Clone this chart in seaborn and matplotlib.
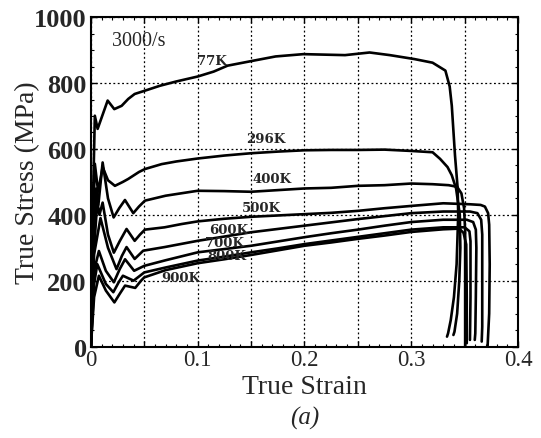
import matplotlib
matplotlib.use("Agg")
import matplotlib.pyplot as plt
from matplotlib.ticker import MultipleLocator, FuncFormatter
import seaborn as sns
import pandas as pd

# curves (true strain, true stress in MPa), 3000/s
strain_77 = [0, 0.001, 0.0037, 0.0063, 0.0157, 0.0219, 0.0288, 0.035, 0.041, 0.0506, 0.0647, 0.08, 0.1,
             0.115, 0.128, 0.152, 0.173, 0.199, 0.238, 0.261, 0.28, 0.303, 0.32, 0.332, 0.336, 0.338,
             0.341, 0.3435, 0.344, 0.3425, 0.340, 0.337, 0.3345, 0.3335]
stress_77 = [0, 300, 701, 661, 747, 721, 731, 752, 767, 777, 792, 805, 820,
             835, 853, 868, 881, 888, 885, 893, 885, 873, 862, 838, 790, 731,
             580, 480, 400, 250, 150, 80, 40, 30]

strain_296 = [0, 0.001, 0.0037, 0.0068, 0.011, 0.016, 0.0225, 0.03, 0.035, 0.045, 0.0506, 0.0663, 0.08,
              0.1, 0.125, 0.15, 0.175, 0.2, 0.225, 0.25, 0.275, 0.3, 0.32, 0.327, 0.334, 0.338, 0.342,
              0.3455, 0.346, 0.345, 0.343, 0.3405, 0.3395]
stress_296 = [0, 250, 555, 470, 545, 505, 488, 500, 509, 530, 539, 554, 562,
              571, 580, 587, 592, 596, 597, 597, 598, 594, 590, 570, 545, 520, 480,
              400, 300, 200, 100, 45, 35]

strain_400 = [0, 0.002, 0.005, 0.007, 0.011, 0.016, 0.0213, 0.0265, 0.0319, 0.0397, 0.045, 0.0506, 0.07,
              0.1, 0.125, 0.15, 0.175, 0.2, 0.225, 0.25, 0.275, 0.3, 0.32, 0.335, 0.343, 0.347, 0.3495,
              0.3505, 0.3505, 0.3505]
stress_400 = [0, 300, 480, 430, 559, 450, 392, 420, 445, 405, 425, 443, 458,
              473, 472, 470, 475, 480, 482, 488, 490, 495, 493, 490, 485, 465, 420,
              350, 200, 0]

strain_500 = [0, 0.002, 0.006, 0.008, 0.011, 0.016, 0.0215, 0.027, 0.0334, 0.041, 0.046, 0.0506, 0.069,
              0.085, 0.1, 0.125, 0.15, 0.175, 0.2, 0.225, 0.25, 0.275, 0.3, 0.33, 0.355, 0.365, 0.369,
              0.372, 0.373, 0.3735, 0.373, 0.3715]
stress_500 = [0, 250, 440, 400, 437, 340, 285, 320, 357, 321, 340, 355, 362,
              372, 380, 388, 394, 398, 402, 406, 412, 420, 427, 435, 432, 430, 425,
              405, 370, 250, 100, 0]

strain_600 = [0, 0.003, 0.009, 0.016, 0.024, 0.029, 0.0334, 0.041, 0.049, 0.069, 0.1, 0.125, 0.15,
              0.175, 0.2, 0.225, 0.25, 0.275, 0.3, 0.33, 0.355, 0.362, 0.3655, 0.3665, 0.3665, 0.3665,
              0.366]
stress_600 = [0, 280, 390, 300, 235, 275, 302, 266, 291, 302, 321, 334, 347,
              357, 367, 377, 387, 396, 405, 410, 410, 405, 385, 340, 200, 60,
              15]

strain_700 = [0, 0.003, 0.0075, 0.014, 0.0215, 0.027, 0.032, 0.0405, 0.05, 0.07, 0.1, 0.125, 0.15,
              0.175, 0.2, 0.225, 0.25, 0.275, 0.3, 0.33, 0.352, 0.358, 0.3605, 0.361, 0.3605, 0.360,
              0.3595]
stress_700 = [0, 230, 290, 230, 195, 235, 265, 230, 245, 262, 286, 296, 306,
              319, 332, 344, 355, 367, 378, 385, 385, 378, 355, 300, 150, 40,
              20]

strain_800 = [0, 0.003, 0.006, 0.014, 0.021, 0.026, 0.03, 0.04, 0.05, 0.07, 0.1, 0.125, 0.15,
              0.175, 0.2, 0.225, 0.25, 0.275, 0.3, 0.33, 0.35, 0.3545, 0.3555, 0.3555, 0.355]
stress_800 = [0, 190, 250, 190, 165, 195, 215, 200, 225, 240, 261, 273, 286,
              298, 311, 322, 333, 344, 355, 362, 362, 350, 320, 150, 20]

strain_900 = [0, 0.003, 0.0075, 0.014, 0.022, 0.027, 0.032, 0.0415, 0.047, 0.05, 0.07, 0.1, 0.125,
              0.15, 0.175, 0.2, 0.225, 0.25, 0.275, 0.3, 0.33, 0.345, 0.349, 0.3515, 0.352, 0.352]
stress_900 = [0, 150, 215, 170, 134, 160, 185, 178, 200, 210, 232, 253, 265,
              278, 292, 306, 316, 327, 337, 348, 356, 358, 345, 310, 150, 10]

temps = ["77K", "296K", "400K", "500K", "600K", "700K", "800K", "900K"]
strains = [strain_77, strain_296, strain_400, strain_500, strain_600, strain_700, strain_800, strain_900]
stresses = [stress_77, stress_296, stress_400, stress_500, stress_600, stress_700, stress_800, stress_900]

# where the temperature labels sit (strain, stress)
label_x = [0.113, 0.164, 0.170, 0.160, 0.129, 0.125, 0.127, 0.0844]
label_y = [870, 632, 511, 422, 356, 316, 275, 210]

frames = []
for t, s, st in zip(temps, strains, stresses):
    frames.append(pd.DataFrame({"strain": s, "stress": st, "temp": t}))
df = pd.concat(frames, ignore_index=True)

sns.set_style("ticks")
plt.rcParams["font.family"] = ["Liberation Serif", "DejaVu Serif"]

fig = plt.figure(figsize=(5.41, 4.39), dpi=100)
ax = fig.add_axes([0.168, 0.2084, 0.7895, 0.75])

sns.lineplot(data=df, x="strain", y="stress", units="temp", estimator=None, sort=False,
             color="black", linewidth=1.9, legend=False, ax=ax)

ax.set_xlim(0, 0.4)
ax.set_ylim(0, 1000)

# ticks: grid every 0.05 / 200, labels every 0.1 / 200
ax.xaxis.set_major_locator(MultipleLocator(0.05))
ax.xaxis.set_minor_locator(MultipleLocator(0.01))
ax.yaxis.set_major_locator(MultipleLocator(200))
ax.yaxis.set_minor_locator(MultipleLocator(50))


def fmt_x(v, pos):
    k = round(v / 0.05)
    if k % 2:
        return ""
    return "0" if k == 0 else f"{v:.1f}"


ax.xaxis.set_major_formatter(FuncFormatter(fmt_x))
ax.yaxis.set_major_formatter(FuncFormatter(lambda v, p: f"{int(round(v))}"))

ax.tick_params(which="both", direction="in", top=True, right=True, color="black")
ax.tick_params(which="major", length=4, width=1)
ax.tick_params(which="minor", length=2.5, width=0.8)
ax.tick_params(axis="x", which="major", labelsize=16.5, pad=2)
ax.tick_params(axis="y", which="major", labelsize=19, pad=3)
for lab in ax.get_yticklabels():
    lab.set_fontweight("bold")

ax.grid(True, which="major", color="black", linestyle=(0, (1.5, 2)), linewidth=0.9)
for sp in ax.spines.values():
    sp.set_color("black")
    sp.set_linewidth(1.5)

ax.set_xlabel("True Strain", fontsize=20)
ax.set_ylabel("True Stress (MPa)", fontsize=20)
ax.xaxis.set_label_coords(0.5, -0.085)
ax.yaxis.set_label_coords(-0.12, 0.5)

ax.text(0.0197, 929, "3000/s", fontsize=14.5, ha="left", va="center")
for t, lx, ly in zip(temps, label_x, label_y):
    ax.text(lx, ly, t, fontsize=9.5, fontweight="bold", family="DejaVu Serif",
            ha="center", va="center")

fig.text((0.168 + 0.9575) / 2, 0.047, "(a)", fontsize=18, style="italic",
         ha="center", va="center")

fig.savefig("out.png", dpi=100)
